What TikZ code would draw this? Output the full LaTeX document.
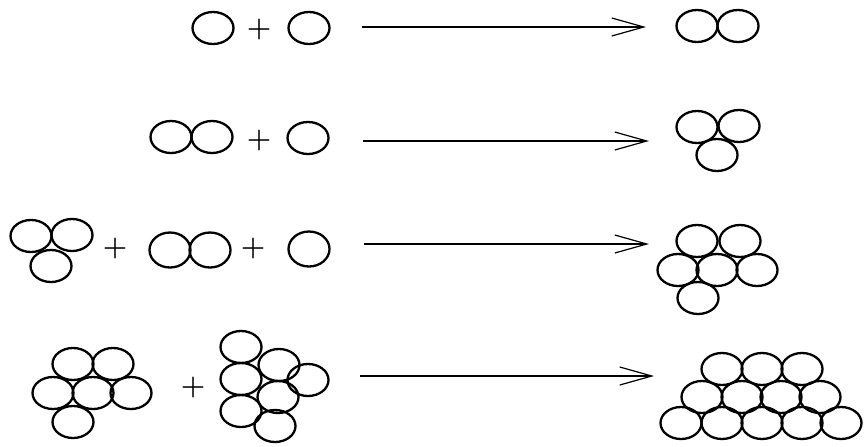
\documentclass[tikz,border=0pt]{standalone}
\usetikzlibrary{shapes.geometric,arrows.meta}
\begin{document}
\begin{tikzpicture}[x=0.5pt,y=-0.5pt,
  ball/.style={ellipse,draw,line width=1.15pt,minimum width=20.5pt,minimum height=16pt,inner sep=0pt},
  tallball/.style={ball,minimum height=17.5pt},
  plus/.style={inner sep=0pt,font=\fontsize{14}{14}\selectfont\bfseries},
  react/.style={line width=1.1pt,-{Straight Barb[length=16pt,width=9pt,line width=0.6pt]}}]
\useasboundingbox (0,0) rectangle (865,446);

% ---- step 1: monomer + monomer -> dimer
\node[ball] (r1a) at (213,28) {};
\node[plus] (r1p) at (259,30) {+};
\node[ball] (r1b) at (309,28) {};
\coordinate (s1) at (362,27);
\coordinate (t1) at (646,27);
\draw[react] (s1) -- (t1);
\foreach \n/\x/\y in {p1a/697/26,p1b/738/26}
  \node[ball] (\n) at (\x,\y) {};

% ---- step 2: dimer + monomer -> trimer
\foreach \n/\x/\y in {r2a/171/137,r2b/212/137}
  \node[ball] (\n) at (\x,\y) {};
\node[plus] (r2p) at (259,141) {+};
\node[ball] (r2c) at (308,138) {};
\coordinate (s2) at (363,141);
\coordinate (t2) at (649,141);
\draw[react] (s2) -- (t2);
\foreach \n/\x/\y in {p2a/697/127,p2b/739/126,p2c/717/155}
  \node[ball] (\n) at (\x,\y) {};

% ---- step 3: trimer + dimer + monomer -> hexamer
\foreach \n/\x/\y in {r3a/31/236,r3b/72/235,r3c/51/266}
  \node[ball] (\n) at (\x,\y) {};
\node[plus] (r3p) at (115,249) {+};
\foreach \n/\x/\y in {r3d/170/250,r3e/210/250}
  \node[tallball] (\n) at (\x,\y) {};
\node[plus] (r3q) at (253,249) {+};
\node[tallball] (r3f) at (309,249) {};
\coordinate (s3) at (364,244);
\coordinate (t3) at (649,244);
\draw[react] (s3) -- (t3);
\foreach \n/\x/\y in {p3a/697/241,p3b/740/241,
                      p3c/678/270,p3d/717/270,p3e/757/270,
                      p3f/698/298}
  \node[ball] (\n) at (\x,\y) {};

% ---- step 4: hexamer + heptamer -> 12-mer
\foreach \n/\x/\y in {r4a/73/364,r4b/113/364,
                      r4c/53/393,r4d/93/393,r4e/131/393,
                      r4f/73/422}
  \node[ball] (\n) at (\x,\y) {};
\node[plus] (r4p) at (193,387) {+};
\foreach \n/\x/\y in {r4g/241/347,r4h/241/379,r4i/241/411,
                      r4j/279/365,r4k/278/397,r4l/275/426,
                      r4m/308/380}
  \node[ball] (\n) at (\x,\y) {};
\coordinate (s4) at (360,376);
\coordinate (t4) at (654,376);
\draw[react] (s4) -- (t4);
\foreach \n/\x/\y in {p4a/722/369,p4b/762/369,p4c/802/369,
                      p4d/702/397,p4e/742/397,p4f/781/397,p4g/820/397,
                      p4h/681/423,p4i/722/423,p4j/762/423,p4k/802/423,p4l/841/423}
  \node[ball] (\n) at (\x,\y) {};
\end{tikzpicture}
\end{document}
